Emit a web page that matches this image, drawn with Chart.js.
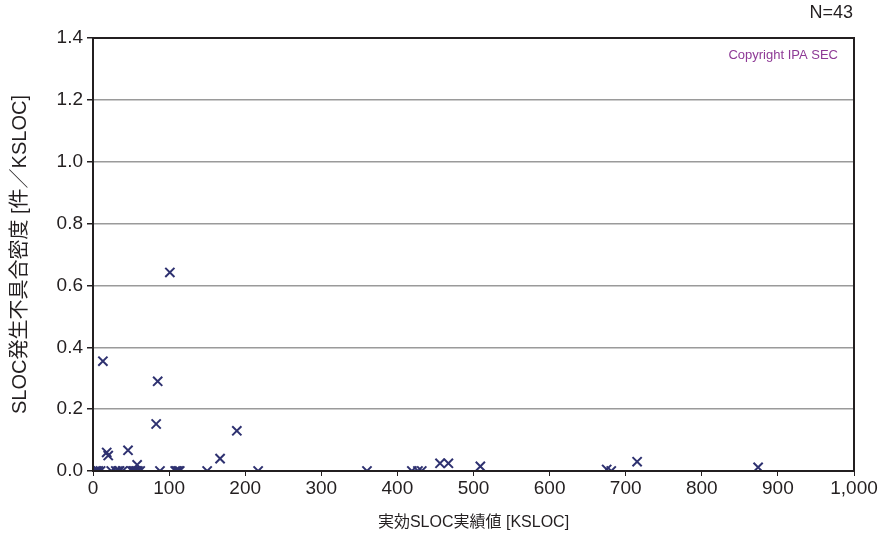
<!DOCTYPE html>
<html>
<head>
<meta charset="utf-8">
<script src="https://cdn.jsdelivr.net/npm/chart.js@4/dist/chart.umd.min.js"></script>
<style>
  html, body { margin: 0; padding: 0; background: #fff; }
  #wrap { width: 885px; height: 538px; }
</style>
</head>
<body>
<div id="wrap"><canvas id="grafica"></canvas></div>
<script>
// 実効SLOC実績値 [KSLOC]
var slocX = [13, 101, 85, 83, 189, 46, 18, 20, 167, 58, 456, 467, 509, 715, 874, 675,
             3, 7, 10, 24, 30, 35, 39, 51, 55, 59, 62, 88, 108, 112, 114, 150, 217, 360,
             419, 427, 432, 681, 57, 53, 5, 33, 110];
// SLOC発生不具合密度 [件／KSLOC]
var densityY = [0.355, 0.642, 0.29, 0.152, 0.13, 0.067, 0.06, 0.05, 0.04, 0.02, 0.025, 0.025, 0.015, 0.03, 0.012, 0.005,
                0, 0, 0, 0, 0, 0, 0, 0, 0, 0, 0, 0, 0, 0, 0, 0, 0, 0,
                0, 0, 0, 0, 0, 0, 0, 0, 0];
var xTicks = [0, 100, 200, 300, 400, 500, 600, 700, 800, 900, 1000];
var yTicks = [0, 0.2, 0.4, 0.6, 0.8, 1.0, 1.2, 1.4];

var fuente = "'Liberation Sans', 'Noto Sans CJK JP', sans-serif";

var puntos = slocX.map(function (x, i) { return { x: x, y: densityY[i] }; });

// marco negro y textos N=43 / Copyright
var marco = {
    id: 'marco',
    afterDraw: function (chart) {
        var a = chart.chartArea, ctx = chart.ctx;
        ctx.save();
        ctx.strokeStyle = '#231f20';
        ctx.lineWidth = 2;
        ctx.strokeRect(a.left, a.top, a.right - a.left, a.bottom - a.top);
        ctx.fillStyle = '#231f20';
        ctx.font = '18px ' + fuente;
        ctx.textAlign = 'right';
        ctx.textBaseline = 'middle';
        ctx.fillText('N=43', a.right - 1, 13);
        ctx.fillStyle = '#8e3a96';
        ctx.font = '13px ' + fuente;
        ctx.fillText('Copyright IPA SEC', a.right - 16, 55);
        ctx.restore();
    }
};

var gx = document.getElementById("grafica").getContext("2d");
var myChart = new Chart(gx, {
    type: "scatter",
    data: {
        datasets: [{
            label: 'SLOC発生不具合密度',
            data: puntos,
            pointStyle: 'crossRot',
            pointRadius: 6.5,
            pointBorderWidth: 2,
            borderColor: '#2e3170',
            backgroundColor: '#2e3170'
        }]
    },
    options: {
        responsive: true,
        maintainAspectRatio: false,
        animation: false,
        layout: { padding: { left: 0, right: 31, top: 38, bottom: 0 } },
        plugins: {
            legend: { display: false },
            tooltip: { enabled: false }
        },
        scales: {
            x: {
                type: 'linear',
                min: 0,
                max: 1000,
                afterFit: function (s) { s.height = 67; },
                afterBuildTicks: function (s) { s.ticks = xTicks.map(function (v) { return { value: v }; }); },
                grid: { drawOnChartArea: false, drawTicks: true, tickLength: 5, color: '#231f20', lineWidth: 1 },
                border: { display: true, color: '#231f20', width: 2 },
                ticks: {
                    color: '#231f20',
                    font: { family: fuente, size: 19 },
                    padding: 1,
                    maxRotation: 0,
                    callback: function (v) { return v.toLocaleString('en-US'); }
                },
                title: {
                    display: true,
                    text: '実効SLOC実績値 [KSLOC]',
                    color: '#231f20',
                    font: { family: fuente, size: 16 },
                    padding: { top: 0, bottom: 6 }
                }
            },
            y: {
                min: 0,
                max: 1.4,
                afterFit: function (s) { s.width = 93; },
                afterBuildTicks: function (s) { s.ticks = yTicks.map(function (v) { return { value: v }; }); },
                grid: { color: '#9a9a9a', lineWidth: 1.5, tickLength: 6, tickColor: '#231f20' },
                border: { display: true, color: '#231f20', width: 2 },
                ticks: {
                    color: '#231f20',
                    font: { family: fuente, size: 19 },
                    padding: 4,
                    callback: function (v) { return v.toFixed(1); }
                },
                title: {
                    display: true,
                    text: 'SLOC発生不具合密度 [件／KSLOC]',
                    color: '#231f20',
                    font: { family: fuente, size: 20 },
                    padding: { top: 8, bottom: 0 }
                }
            }
        }
    },
    plugins: [marco]
});
</script>
</body>
</html>
